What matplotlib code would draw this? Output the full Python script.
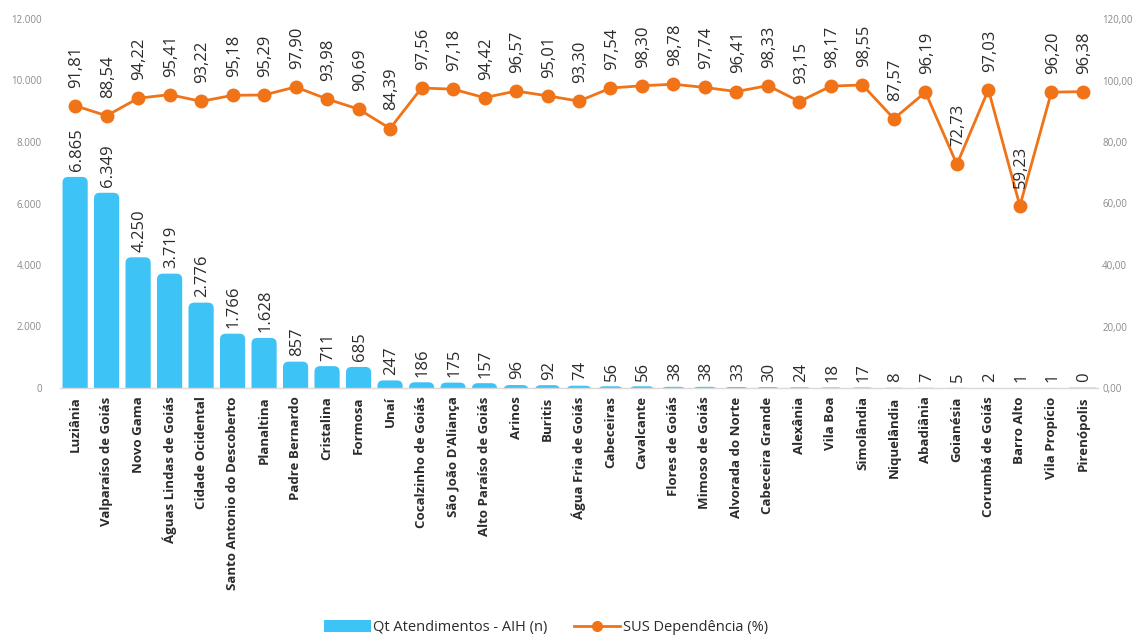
import matplotlib
matplotlib.use("Agg")
import matplotlib.pyplot as plt
from matplotlib.patches import FancyBboxPatch
from matplotlib.lines import Line2D
from matplotlib.patches import Patch

plt.rcParams['font.family'] = ['Open Sans', 'DejaVu Sans']

municipios = [
    "Luziânia", "Valparaíso de Goiás", "Novo Gama", "Águas Lindas de Goiás",
    "Cidade Ocidental", "Santo Antonio do Descoberto", "Planaltina",
    "Padre Bernardo", "Cristalina", "Formosa", "Unaí", "Cocalzinho de Goiás",
    "São João D'Aliança", "Alto Paraíso de Goiás", "Arinos", "Buritis",
    "Água Fria de Goiás", "Cabeceiras", "Cavalcante", "Flores de Goiás",
    "Mimoso de Goiás", "Alvorada do Norte", "Cabeceira Grande", "Alexânia",
    "Vila Boa", "Simolândia", "Niquelândia", "Abadiânia", "Goianésia",
    "Corumbá de Goiás", "Barro Alto", "Vila Propício", "Pirenópolis",
]
atendimentos = [
    6865, 6349, 4250, 3719, 2776, 1766, 1628, 857, 711, 685, 247, 186, 175,
    157, 96, 92, 74, 56, 56, 38, 38, 33, 30, 24, 18, 17, 8, 7, 5, 2, 1, 1, 0,
]
dependencia = [
    91.81, 88.54, 94.22, 95.41, 93.22, 95.18, 95.29, 97.90, 93.98, 90.69,
    84.39, 97.56, 97.18, 94.42, 96.57, 95.01, 93.30, 97.54, 98.30, 98.78,
    97.74, 96.41, 98.33, 93.15, 98.17, 98.55, 87.57, 96.19, 72.73, 97.03,
    59.23, 96.20, 96.38,
]
left_ticks = [0, 2000, 4000, 6000, 8000, 10000, 12000]
left_tick_labels = ["0", "2.000", "4.000", "6.000", "8.000", "10.000", "12.000"]
right_ticks = [0, 20, 40, 60, 80, 100, 120]
right_tick_labels = ["0,00", "20,00", "40,00", "60,00", "80,00", "100,00", "120,00"]

BAR_COLOR = "#3DC3F5"
LINE_COLOR = "#F07318"
TEXT_COLOR = "#2b2b2b"
TICK_COLOR = "#8a8a8a"

W, H = 1147, 638
fig = plt.figure(figsize=(W / 100, H / 100), dpi=100)
ax_left, ax_right, ax_bottom, ax_top = 60, 1098, 388, 19
ax = fig.add_axes([ax_left / W, 1 - ax_bottom / H,
                   (ax_right - ax_left) / W, (ax_bottom - ax_top) / H])

x = list(range(len(municipios)))
ax.set_xlim(-0.48, len(municipios) - 0.52)
ax.set_ylim(0, 12000)

# bars with rounded tops
bar_w = 0.8
px_per_x = (ax_right - ax_left) / (len(municipios) - 0.52 + 0.48)
px_per_y = (ax_bottom - ax_top) / 12000
aspect = px_per_x / px_per_y
r = 0.18
for xi, v in zip(x, atendimentos):
    if v <= 0:
        ax.plot([xi - bar_w / 2, xi + bar_w / 2], [0, 0], color="#d9d9d9", lw=1.2, zorder=2)
        continue
    patch = FancyBboxPatch((xi - bar_w / 2, -r * aspect), bar_w, v + r * aspect,
                           boxstyle=f"round,pad=0,rounding_size={r}",
                           mutation_aspect=aspect, facecolor=BAR_COLOR,
                           edgecolor="none", zorder=2)
    ax.add_patch(patch)

for xi, v in zip(x, atendimentos):
    lbl = f"{v:,}".replace(",", ".")
    ax.annotate(lbl, (xi, v), xytext=(1, 4), textcoords="offset points",
                rotation=90, ha="center", va="bottom", fontsize=12,
                color=TEXT_COLOR, zorder=5)

ax.set_yticks(left_ticks)
ax.set_yticklabels(left_tick_labels, fontsize=7, color=TICK_COLOR)
ax.tick_params(axis="y", length=0, pad=13)
ax.set_xticks(x)
ax.set_xticklabels(municipios, rotation=90, fontsize=9.5, fontweight="bold",
                   color=TEXT_COLOR, va="top", ha="center")
ax.tick_params(axis="x", length=0, pad=6)
for s in ["top", "right", "left"]:
    ax.spines[s].set_visible(False)
ax.spines["bottom"].set_color("#d9d9d9")
ax.spines["bottom"].set_linewidth(1)

ax2 = ax.twinx()
ax2.set_ylim(0, 120)
ax2.plot(x, dependencia, color=LINE_COLOR, lw=2, marker="o", markersize=9,
         markerfacecolor=LINE_COLOR, markeredgecolor=LINE_COLOR, zorder=4)
for xi, v in zip(x, dependencia):
    lbl = f"{v:.2f}".replace(".", ",")
    ax2.annotate(lbl, (xi, v), xytext=(1, 13), textcoords="offset points",
                 rotation=90, ha="center", va="bottom", fontsize=12,
                 color=TEXT_COLOR, zorder=5)
ax2.set_yticks(right_ticks)
ax2.set_yticklabels(right_tick_labels, fontsize=7, color=TICK_COLOR)
ax2.tick_params(axis="y", length=0, pad=3)
for s in ["top", "right", "left", "bottom"]:
    ax2.spines[s].set_visible(False)

handles = [
    Patch(facecolor=BAR_COLOR, edgecolor="none", label="Qt Atendimentos - AIH (n)"),
    Line2D([0], [0], color=LINE_COLOR, lw=2, marker="o", markersize=7,
           label="SUS Dependência (%)"),
]
fig.legend(handles=handles, loc="center", bbox_to_anchor=(0.476, 0.016),
           ncol=2, frameon=False, fontsize=10.5, handlelength=3.2,
           handleheight=0.9, handletextpad=0.15, columnspacing=1.8,
           labelcolor=TEXT_COLOR)

fig.savefig("out.png", dpi=100)
